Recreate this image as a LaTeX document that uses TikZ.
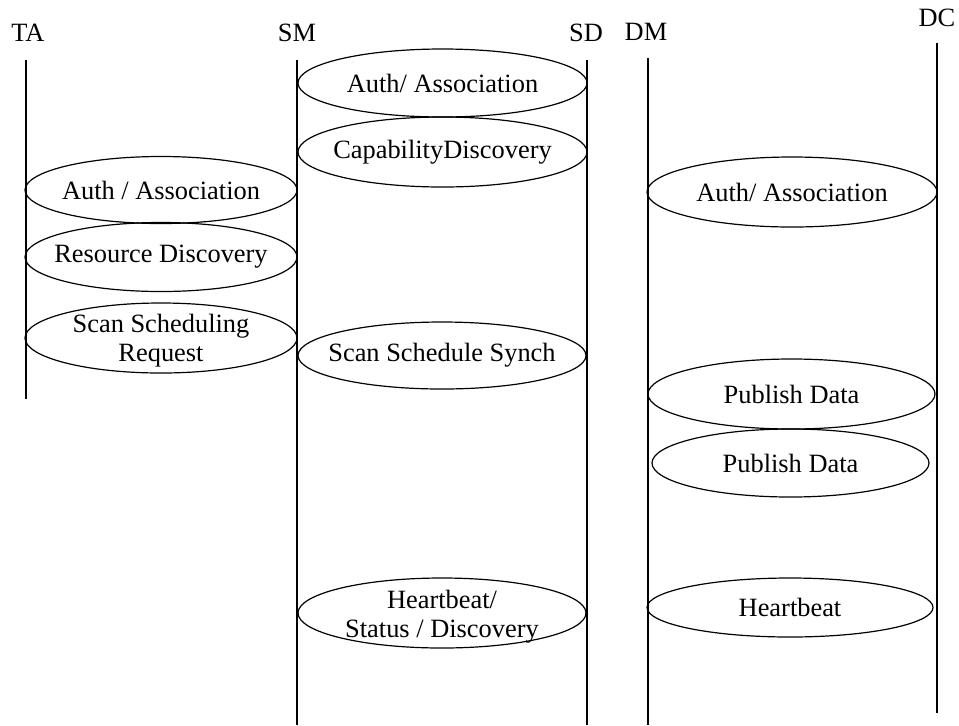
\documentclass[tikz,border=0pt]{standalone}
\usepackage{fontspec}
\setmainfont{Liberation Serif}
\usetikzlibrary{shapes.geometric}
\def\pix{0.5pt}
\tikzset{
  lane/.style={line width=0.65pt},
  actor/.style={inner sep=0pt},
  act/.style={draw, ellipse, line width=0.6pt, inner sep=0pt, outer sep=0pt},
}

\begin{document}
\begin{tikzpicture}[x=\pix, y=-\pix, font=\fontsize{13.2}{14.5}\selectfont]
\useasboundingbox (0,0) rectangle (959,725);

% ACTORS
\node[actor] (TA) at (28,33) {TA};
\node[actor] (SM) at (297,33) {SM};
\node[actor] (SD) at (586,33) {SD};
\node[actor] (DM) at (646,32) {DM};
\node[actor] (DC) at (937,18) {DC};

% LIFELINES
\coordinate (TA top) at (26,60);
\coordinate (TA bot) at (26,399);
\coordinate (SM top) at (297,60);
\coordinate (SM bot) at (297,725);
\coordinate (SD top) at (587,60);
\coordinate (SD bot) at (587,725);
\coordinate (DM top) at (648,58);
\coordinate (DM bot) at (648,725);
\coordinate (DC top) at (937,43);
\coordinate (DC bot) at (937,713);
\draw[lane] (TA top) -- (TA bot);
\draw[lane] (SM top) -- (SM bot);
\draw[lane] (SD top) -- (SD bot);
\draw[lane] (DM top) -- (DM bot);
\draw[lane] (DC top) -- (DC bot);

% TA - SM
\node[act, minimum width=272*\pix, minimum height=67*\pix,
  label=center:{Auth / Association}] (ta auth) at (161,190) {};
\node[act, minimum width=272*\pix, minimum height=69*\pix,
  label=center:{Resource Discovery}] (ta res) at (161,257) {};
\node[act, minimum width=272*\pix, minimum height=70*\pix,
  label={[align=center, yshift=-1.5pt]center:Scan Scheduling\\Request}] (ta scan) at (161,338) {};

% SM - SD
\node[act, minimum width=289*\pix, minimum height=68*\pix,
  label=center:{Auth/ Association}] (sm auth) at (442.5,83) {};
\node[act, minimum width=289*\pix, minimum height=70*\pix,
  label=center:{CapabilityDiscovery}] (sm cap) at (442.5,152) {};
\node[act, minimum width=288*\pix, minimum height=67*\pix,
  label=center:{Scan Schedule Synch}] (sm scan) at (442,355.5) {};
\node[act, minimum width=288*\pix, minimum height=70*\pix,
  label={[align=center, yshift=-2pt]center:Heartbeat/\\Status / Discovery}] (sm beat) at (442,613) {};

% DM - DC
\node[act, minimum width=290*\pix, minimum height=70*\pix,
  label=center:{Auth/ Association}] (dm auth) at (792,192) {};
\node[act, minimum width=287*\pix, minimum height=70*\pix,
  label=center:{Publish Data}] (dm pub1) at (791.5,394) {};
\node[act, minimum width=277*\pix, minimum height=68*\pix,
  label=center:{Publish Data}] (dm pub2) at (790.5,463) {};
\node[act, minimum width=286*\pix, minimum height=59*\pix,
  label=center:{Heartbeat}] (dm beat) at (790,607.5) {};

\end{tikzpicture}
\end{document}
